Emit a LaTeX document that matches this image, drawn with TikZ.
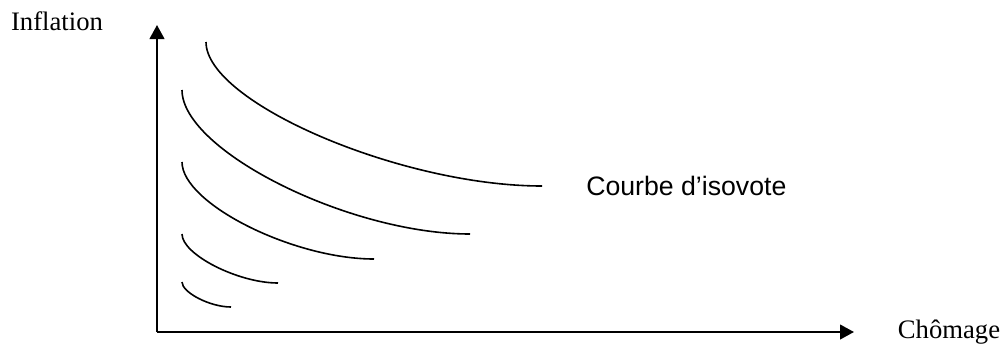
\documentclass[tikz,border=0pt]{standalone}
\usepackage{fontspec}
\setmainfont{Liberation Serif}
\newfontfamily\arialfont{Liberation Sans}
\usetikzlibrary{arrows.meta}
\begin{document}
\begin{tikzpicture}[x=0.75pt,y=-0.75pt,
  axis/.style={line width=1.6pt,-{Triangle[length=10.5pt,width=11pt]}},
  iso/.style={line width=1.2pt},
  serlab/.style={font=\fontsize{20pt}{24pt}\selectfont,anchor=base,inner sep=0pt},
  sanslab/.style={font=\arialfont\fontsize{20pt}{24pt}\selectfont,anchor=base west,inner sep=0pt}]
\useasboundingbox (0,0) rectangle (1003,347);
\coordinate (O) at (157,332);
\coordinate (Ytip) at (157,25);
\coordinate (Xtip) at (854,332);
\draw[axis] (O) -- (Ytip);
\draw[axis] (O) -- (Xtip);
\node[serlab] (ylab) at (57,30) {Inflation};
\node[serlab] (xlab) at (949,338) {Chômage};
\node[sanslab] (clab) at (586,195) {Courbe d’isovote};
% isovote curves (vertical tangent at start, horizontal at end)
\coordinate (a1) at (206,42);  \coordinate (b1) at (542,186);
\coordinate (a2) at (182,90);  \coordinate (b2) at (470,234);
\coordinate (a3) at (182,162); \coordinate (b3) at (374,259);
\coordinate (a4) at (182,234); \coordinate (b4) at (278,283);
\coordinate (a5) at (182,282); \coordinate (b5) at (231,307);
\draw[iso] (a1) .. controls (206,102.5) and (401,186) .. (b1);
\draw[iso] (a2) .. controls (182,150.5) and (349,234) .. (b2);
\draw[iso] (a3) .. controls (182,203.5) and (293,259) .. (b3);
\draw[iso] (a4) .. controls (182,254.5) and (238,283) .. (b4);
\draw[iso] (a5) .. controls (182,292.5) and (210,307) .. (b5);
\end{tikzpicture}
\end{document}
